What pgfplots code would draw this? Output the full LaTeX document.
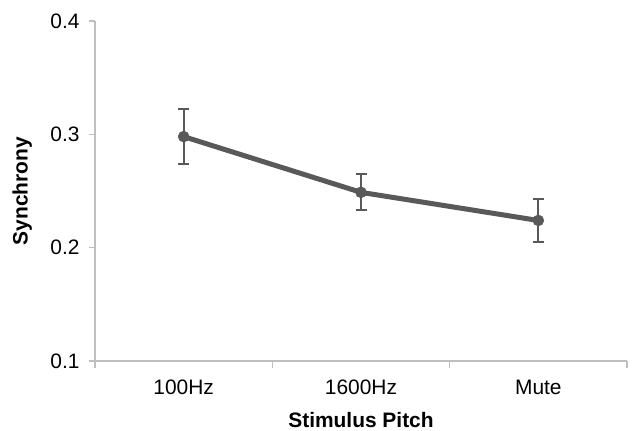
\documentclass[border=0pt]{standalone}
\usepackage{pgfplots}
\pgfplotsset{compat=1.18}
\usepackage{fontspec}
\setmainfont{Liberation Sans}
\definecolor{linegray}{RGB}{89,89,89}
\definecolor{axgray}{RGB}{190,190,190}
\begin{document}
\begin{tikzpicture}
\begin{axis}[
  width=532bp, height=340bp, scale only axis,
  xmin=0.5, xmax=3.5, ymin=0.1, ymax=0.4,
  ytick={0.1,0.2,0.3,0.4},
  yticklabel style={/pgf/number format/fixed,/pgf/number format/fixed zerofill,/pgf/number format/precision=1},
  /pgf/number format/assume math mode=true,
  xtick={1,2,3}, xticklabels={100Hz,1600Hz,Mute},
  minor xtick={0.5,1.5,2.5,3.5},
  axis x line*=bottom, axis y line*=left,
  axis line style={draw=axgray, line width=1.5bp, -},
  tick align=outside,
  major tick length=6bp, minor tick length=7bp,
  every tick/.style={draw=axgray, line width=1.5bp},
  major x tick style={draw=none},
  ticklabel style={font=\fontsize{21}{24}\selectfont, text=black},
  xticklabel style={yshift=-9bp, text height=15bp, text depth=0bp},
  yticklabel style={xshift=-6bp},
  xlabel={\textbf{Stimulus Pitch}},
  ylabel={\textbf{Synchrony}},
  label style={font=\fontsize{21}{24}\selectfont},
  xlabel style={at={(axis description cs:0.5,-0.1735)}, anchor=center},
  ylabel style={at={(axis description cs:-0.137,0.5)}, anchor=center},
  clip=false,
]
\addplot[color=linegray, line width=5bp, mark=*, mark size=5.5bp,
  mark options={fill=linegray, draw=linegray, line width=0.5bp},
  error bars/.cd, y dir=both, y explicit,
  error bar style={draw=linegray, line width=2bp},
  error mark options={draw=linegray, line width=2bp, mark size=5.5bp, rotate=90}]
  coordinates {
    (1,0.298) +- (0,0.0240)
    (2,0.2488) +- (0,0.0160)
    (3,0.224) +- (0,0.0190)
  };
\end{axis}
\path (current axis.south west) ++(-95bp,-68bp) rectangle ++(635bp,429bp);
\end{tikzpicture}
\end{document}
